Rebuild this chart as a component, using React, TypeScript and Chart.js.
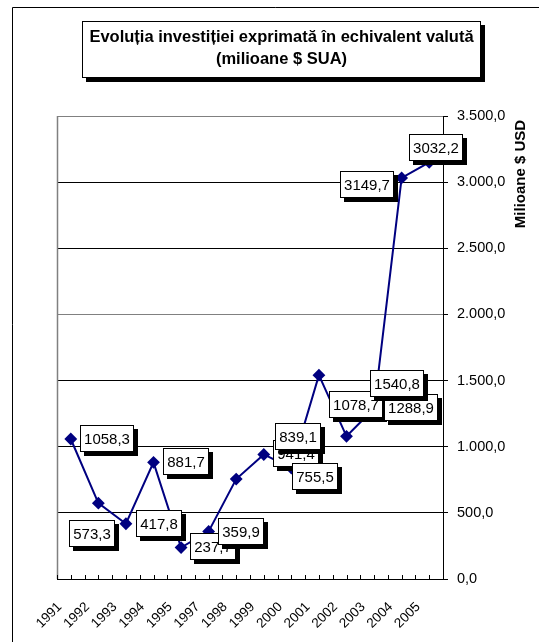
import React, { useEffect, useRef } from 'react';
import { Chart, registerables } from 'chart.js';

Chart.register(...registerables);

const FONT = '"Liberation Sans", Arial, Helvetica, sans-serif';

// ---- data ----
const years = ['1991', '1992', '1993', '1994', '1995', '1997', '1998', '1999', '2000', '2001', '2002', '2003', '2004', '2005'];
const investment = [1058.3, 573.3, 417.8, 881.7, 237.7, 359.9, 755.5, 941.4, 839.1, 1540.8, 1078.7, 1288.9, 3032.2, 3149.7];
const titleLines = ['Evoluția investiției exprimată în echivalent valută', '(milioane $ SUA)'];
const yAxisTitle = 'Milioane $ USD';
const yMin = 0;
const yMax = 3500;
const yStep = 500;

// ---- label box placement (style, relative to each point) ----
const labelOffsets: Array<[number, number]> = [
  [36, -1],
  [-6, 30],
  [33, 0],
  [32, -1],
  [32, -1],
  [32, 0],
  [79, -3],
  [32, -1],
  [7, -31],
  [78, 8.5],
  [9.5, -32],
  [37, -1],
  [34, -30],
  [-62, 22],
];
const labelDrawOrder = [0, 1, 2, 3, 4, 5, 7, 6, 8, 10, 11, 9, 12, 13];

const fmtLabel = (v: number) => v.toFixed(1).replace('.', ',');
const fmtTick = (v: number) => {
  const [i, d] = v.toFixed(1).split('.');
  return i.replace(/\B(?=(\d{3})+(?!\d))/g, '.') + ',' + d;
};

const decorPlugin = {
  id: 'decor',
  beforeDraw(chart: any) {
    const { ctx } = chart;
    ctx.save();
    ctx.strokeStyle = '#000';
    ctx.lineWidth = 1;
    ctx.beginPath();
    ctx.moveTo(12.5, chart.height);
    ctx.lineTo(12.5, 7.5);
    ctx.lineTo(chart.width, 7.5);
    ctx.stroke();
    ctx.restore();
  },
  beforeDatasetsDraw(chart: any) {
    const { ctx, chartArea: a, scales } = chart;
    ctx.save();
    ctx.strokeStyle = '#808080';
    ctx.lineWidth = 1.5;
    ctx.beginPath();
    ctx.moveTo(a.left + 0.5, a.bottom);
    ctx.lineTo(a.left + 0.5, a.top);
    ctx.stroke();
    const xs = scales.x;
    ctx.strokeStyle = '#000';
    ctx.lineWidth = 1;
    ctx.beginPath();
    xs.ticks.forEach((t: any) => {
      const px = Math.round(xs.getPixelForValue(t.value)) + 0.5;
      ctx.moveTo(px, a.bottom);
      ctx.lineTo(px, a.bottom - 4);
    });
    ctx.stroke();
    ctx.restore();
  },
  afterDatasetsDraw(chart: any) {
    const { ctx } = chart;
    const meta = chart.getDatasetMeta(0);
    ctx.save();
    ctx.font = `15px ${FONT}`;
    labelDrawOrder.forEach((i) => {
      const el = meta.data[i];
      if (!el) return;
      const text = fmtLabel(investment[i]);
      const w = Math.round(ctx.measureText(text).width + 8);
      const h = 27;
      const cx = el.x + labelOffsets[i][0];
      const cy = el.y + labelOffsets[i][1];
      const x = Math.round(cx - w / 2);
      const y = Math.round(cy - h / 2);
      ctx.fillStyle = '#000';
      ctx.fillRect(x + 4, y + 4, w, h);
      ctx.fillStyle = '#fff';
      ctx.fillRect(x, y, w, h);
      ctx.strokeStyle = '#000';
      ctx.lineWidth = 1;
      ctx.strokeRect(x + 0.5, y + 0.5, w - 1, h - 1);
      ctx.fillStyle = '#000';
      ctx.textAlign = 'center';
      ctx.textBaseline = 'middle';
      ctx.fillText(text, x + w / 2, y + h / 2 + 1);
    });
    ctx.restore();
  },
  afterDraw(chart: any) {
    const { ctx } = chart;
    ctx.save();
    // title box
    const bx = 82, by = 21, bw = 399, bh = 57;
    ctx.fillStyle = '#000';
    ctx.fillRect(bx + 4, by + 4, bw, bh);
    ctx.fillStyle = '#fff';
    ctx.fillRect(bx, by, bw, bh);
    ctx.strokeStyle = '#000';
    ctx.lineWidth = 1;
    ctx.strokeRect(bx + 0.5, by + 0.5, bw - 1, bh - 1);
    ctx.fillStyle = '#000';
    ctx.font = `bold 16.5px ${FONT}`;
    ctx.textAlign = 'center';
    ctx.textBaseline = 'alphabetic';
    ctx.fillText(titleLines[0], bx + bw / 2, 42);
    ctx.fillText(titleLines[1], bx + bw / 2, 64);
    // y axis title (rotated, reading upward)
    ctx.translate(520.5, 174);
    ctx.rotate(-Math.PI / 2);
    ctx.font = `bold 15px ${FONT}`;
    ctx.textBaseline = 'middle';
    ctx.fillText(yAxisTitle, 0, 0);
    ctx.restore();
  },
};

export default function App() {
  const ref = useRef<HTMLCanvasElement | null>(null);

  useEffect(() => {
    document.body.style.margin = '0';
    const canvas = ref.current;
    if (!canvas) return;
    const chart = new Chart(canvas, {
      type: 'line',
      data: {
        datasets: [
          {
            data: investment.map((v, i) => ({ x: i, y: v })),
            borderColor: '#000080',
            backgroundColor: '#000080',
            borderWidth: 2,
            pointStyle: 'rectRot',
            pointRadius: 5,
            pointBackgroundColor: '#000080',
            pointBorderColor: '#000080',
            tension: 0,
          },
        ],
      },
      options: {
        responsive: false,
        animation: false,
        layout: { padding: { top: 116, left: 57, right: 0, bottom: 0 } },
        plugins: {
          legend: { display: false },
          title: { display: false },
          tooltip: { enabled: false },
        },
        scales: {
          x: {
            type: 'linear',
            min: -0.5,
            max: years.length - 0.5,
            grid: { display: false, drawTicks: false },
            border: { display: true, color: '#000', width: 1 },
            afterFit: (s: any) => {
              s.height = 63;
            },
            ticks: {
              stepSize: 0.5,
              autoSkip: false,
              maxRotation: 45,
              minRotation: 45,
              padding: 20,
              labelOffset: -11,
              color: '#000',
              font: { family: FONT, size: 13.5 },
              callback: (value: any) => {
                const v = Number(value);
                const i = Math.round(v);
                return Math.abs(v - i) < 1e-6 ? years[i] ?? '' : '';
              },
            },
          },
          y: {
            position: 'right',
            min: yMin,
            max: yMax,
            afterFit: (s: any) => {
              s.width = 96;
            },
            grid: {
              color: (c: any) => (c.tick && (c.tick.value === yMax || c.tick.value === 2000) ? '#808080' : '#000'),
              tickColor: '#000',
              lineWidth: 1,
              tickLength: 5,
              drawOnChartArea: true,
            },
            border: { display: true, color: '#000', width: 1 },
            ticks: {
              stepSize: yStep,
              padding: 9,
              color: '#000',
              font: { family: FONT, size: 14.5 },
              callback: (value: any) => fmtTick(Number(value)),
            },
          },
        },
      },
      plugins: [decorPlugin],
    });
    return () => chart.destroy();
  }, []);

  return <canvas ref={ref} width={539} height={642} style={{ display: 'block', width: 539, height: 642 }} />;
}
